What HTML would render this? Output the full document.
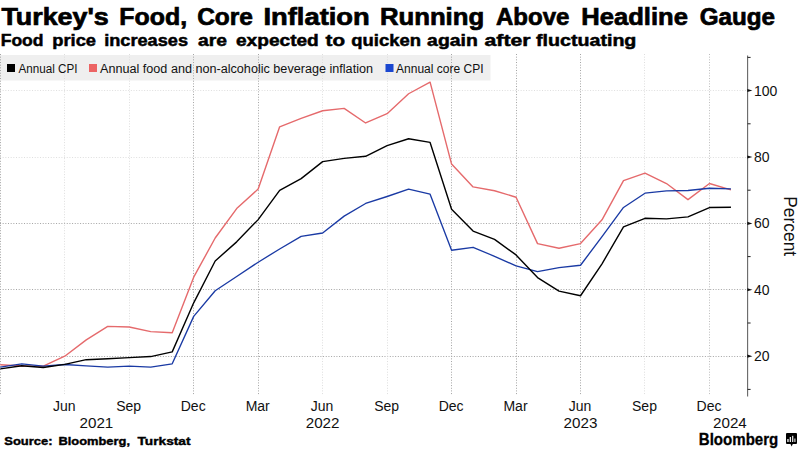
<!DOCTYPE html>
<html><head><meta charset="utf-8">
<style>
html,body{margin:0;padding:0;background:#fff;}
body{width:800px;height:450px;overflow:hidden;}
svg{display:block;font-family:"Liberation Sans",sans-serif;}
</style></head><body>
<svg width="800" height="450" viewBox="0 0 800 450">
<rect width="800" height="450" fill="#fff"/>
<rect x="0" y="55" width="490.5" height="25.5" fill="#efefef"/>
<g stroke-width="1" stroke-dasharray="1,1.67" fill="none">
<line x1="0" y1="356.5" x2="747.6" y2="356.5" stroke="#a4a4a4"/><line x1="0" y1="289.5" x2="747.6" y2="289.5" stroke="#a4a4a4"/><line x1="0" y1="223.5" x2="747.6" y2="223.5" stroke="#a4a4a4"/><line x1="0" y1="157.5" x2="747.6" y2="157.5" stroke="#dedede"/><line x1="0" y1="90.5" x2="747.6" y2="90.5" stroke="#dedede"/><line x1="0.5" y1="54" x2="0.5" y2="395" stroke="#a4a4a4"/><line x1="64.5" y1="54" x2="64.5" y2="395" stroke="#dedede"/><line x1="129.5" y1="54" x2="129.5" y2="395" stroke="#dedede"/><line x1="193.5" y1="54" x2="193.5" y2="395" stroke="#a4a4a4"/><line x1="258.5" y1="54" x2="258.5" y2="395" stroke="#a4a4a4"/><line x1="322.5" y1="54" x2="322.5" y2="395" stroke="#dedede"/><line x1="387.5" y1="54" x2="387.5" y2="395" stroke="#dedede"/><line x1="451.5" y1="54" x2="451.5" y2="395" stroke="#a4a4a4"/><line x1="516.5" y1="54" x2="516.5" y2="395" stroke="#a4a4a4"/><line x1="580.5" y1="54" x2="580.5" y2="395" stroke="#a4a4a4"/><line x1="644.5" y1="54" x2="644.5" y2="395" stroke="#dedede"/><line x1="709.5" y1="54" x2="709.5" y2="395" stroke="#bcbcbc"/>
</g>
<rect x="7" y="64" width="8" height="8" fill="#000"/>
<rect x="89" y="64" width="8" height="8" fill="#ec6464"/>
<rect x="385.5" y="64" width="8" height="8" fill="#1a47d0"/>
<g font-size="12" fill="#111">
<text x="18.5" y="72.8" textLength="59" lengthAdjust="spacingAndGlyphs">Annual CPI</text>
<text x="100" y="72.8" textLength="273" lengthAdjust="spacingAndGlyphs">Annual food and non-alcoholic beverage inflation</text>
<text x="396" y="72.8" textLength="87.5" lengthAdjust="spacingAndGlyphs">Annual core CPI</text>
</g>
<g fill="none" stroke-width="1.4" stroke-linejoin="round">
<polyline points="0.29,364.73 21.78,366.03 43.27,366.16 64.76,356.23 86.25,339.87 107.74,326.42 129.23,327.02 150.72,331.60 172.21,332.69 193.70,277.18 215.19,237.97 236.68,208.56 258.17,189.10 279.66,126.79 301.15,118.39 322.64,110.75 344.13,108.36 365.62,122.97 387.11,113.67 408.60,93.75 430.09,82.13 451.58,164.07 473.07,186.91 494.56,190.73 516.05,197.21 537.54,243.59 559.03,248.27 580.52,243.59 602.01,219.81 623.50,180.67 644.99,173.20 666.48,183.56 687.97,199.66 709.46,183.53 730.95,189.90" stroke="#e56a6c"/>
<polyline points="0.29,367.16 21.78,363.84 43.27,366.16 64.76,364.50 86.25,365.83 107.74,367.16 129.23,366.16 150.72,367.16 172.21,363.84 193.70,316.36 215.19,290.80 236.68,276.52 258.17,262.24 279.66,248.96 301.15,236.35 322.64,233.03 344.13,216.10 365.62,203.48 387.11,196.51 408.60,189.20 430.09,194.18 451.58,250.29 473.07,247.30 494.56,256.27 516.05,265.90 537.54,271.54 559.03,267.56 580.52,265.23 602.01,236.68 623.50,207.46 644.99,193.19 666.48,190.86 687.97,190.53 709.46,188.21 730.95,188.87" stroke="#1a3aa4" stroke-width="1.35"/>
<polyline points="0.29,368.85 21.78,365.70 43.27,367.52 64.76,364.40 86.25,359.69 107.74,358.69 129.23,357.59 150.72,356.57 172.21,351.85 193.70,302.81 215.19,260.95 236.68,241.86 258.17,219.62 279.66,190.30 301.15,178.58 322.64,161.58 344.13,158.33 365.62,156.30 387.11,145.55 408.60,138.71 430.09,142.43 451.58,209.22 473.07,231.10 494.56,239.40 516.05,254.91 537.54,277.58 559.03,291.16 580.52,295.74 602.01,263.80 623.50,226.92 644.99,218.32 666.48,218.88 687.97,216.83 709.46,207.56 730.95,207.26" stroke="#000"/>
</g>
<line x1="747.6" y1="55.5" x2="747.6" y2="396.5" stroke="#666" stroke-width="1.1"/>
<g><line x1="747.6" y1="389.4" x2="750.6" y2="389.4" stroke="#222" stroke-width="1"/><path d="M747.3000000000001 354.60 L752.4 356.20 L747.3000000000001 357.70 Z" fill="#111"/><line x1="747.6" y1="323.0" x2="750.6" y2="323.0" stroke="#222" stroke-width="1"/><path d="M747.3000000000001 288.20 L752.4 289.80 L747.3000000000001 291.30 Z" fill="#111"/><line x1="747.6" y1="256.6" x2="750.6" y2="256.6" stroke="#222" stroke-width="1"/><path d="M747.3000000000001 221.80 L752.4 223.40 L747.3000000000001 224.90 Z" fill="#111"/><line x1="747.6" y1="190.2" x2="750.6" y2="190.2" stroke="#222" stroke-width="1"/><path d="M747.3000000000001 155.40 L752.4 157.00 L747.3000000000001 158.50 Z" fill="#111"/><line x1="747.6" y1="123.8" x2="750.6" y2="123.8" stroke="#222" stroke-width="1"/><path d="M747.3000000000001 89.00 L752.4 90.60 L747.3000000000001 92.10 Z" fill="#111"/><line x1="747.6" y1="57.4" x2="750.6" y2="57.4" stroke="#222" stroke-width="1"/></g>
<g font-size="14" fill="#111"><text x="754" y="361.2">20</text><text x="754" y="294.8">40</text><text x="754" y="228.4">60</text><text x="754" y="162.0">80</text><text x="754" y="95.6">100</text></g>
<text transform="translate(784,196.2) rotate(90)" font-size="17.5" fill="#111" textLength="60" lengthAdjust="spacingAndGlyphs">Percent</text>
<g font-size="14" fill="#111" text-anchor="middle"><text x="64.3" y="411">Jun</text><text x="128.7" y="411">Sep</text><text x="193.2" y="411">Dec</text><text x="257.7" y="411">Mar</text><text x="322.1" y="411">Jun</text><text x="386.6" y="411">Sep</text><text x="451.1" y="411">Dec</text><text x="515.5" y="411">Mar</text><text x="580.0" y="411">Jun</text><text x="644.5" y="411">Sep</text><text x="709.0" y="411">Dec</text><text x="96.4" y="427.9" font-size="15.2">2021</text><text x="322.6" y="427.9" font-size="15.2">2022</text><text x="580.5" y="427.9" font-size="15.2">2023</text><text x="729.9" y="427.9" font-size="15.2">2024</text></g>
<text x="1.42" y="24.6" font-size="23.5" font-weight="bold" fill="#000" textLength="107.38" lengthAdjust="spacingAndGlyphs" stroke="#000" stroke-width="0.7" >Turkey&#39;s</text><text x="119.32" y="24.6" font-size="23.5" font-weight="bold" fill="#000" textLength="67.78" lengthAdjust="spacingAndGlyphs" stroke="#000" stroke-width="0.7" >Food,</text><text x="197.20" y="24.6" font-size="23.5" font-weight="bold" fill="#000" textLength="55.80" lengthAdjust="spacingAndGlyphs" stroke="#000" stroke-width="0.7" >Core</text><text x="263.40" y="24.6" font-size="23.5" font-weight="bold" fill="#000" textLength="106.40" lengthAdjust="spacingAndGlyphs" stroke="#000" stroke-width="0.7" >Inflation</text><text x="379.90" y="24.6" font-size="23.5" font-weight="bold" fill="#000" textLength="104.28" lengthAdjust="spacingAndGlyphs" stroke="#000" stroke-width="0.7" >Running</text><text x="496.00" y="24.6" font-size="23.5" font-weight="bold" fill="#000" textLength="73.50" lengthAdjust="spacingAndGlyphs" stroke="#000" stroke-width="0.7" >Above</text><text x="581.32" y="24.6" font-size="23.5" font-weight="bold" fill="#000" textLength="106.60" lengthAdjust="spacingAndGlyphs" stroke="#000" stroke-width="0.7" >Headline</text><text x="699.74" y="24.6" font-size="23.5" font-weight="bold" fill="#000" textLength="75.26" lengthAdjust="spacingAndGlyphs" stroke="#000" stroke-width="0.7" >Gauge</text>
<text x="0.70" y="45.6" font-size="16.5" font-weight="bold" fill="#000" textLength="42.85" lengthAdjust="spacingAndGlyphs" stroke="#000" stroke-width="0.5" >Food</text><text x="52.24" y="45.6" font-size="16.5" font-weight="bold" fill="#000" textLength="43.76" lengthAdjust="spacingAndGlyphs" stroke="#000" stroke-width="0.5" >price</text><text x="104.16" y="45.6" font-size="16.5" font-weight="bold" fill="#000" textLength="83.84" lengthAdjust="spacingAndGlyphs" stroke="#000" stroke-width="0.5" >increases</text><text x="198.00" y="45.6" font-size="16.5" font-weight="bold" fill="#000" textLength="28.96" lengthAdjust="spacingAndGlyphs" stroke="#000" stroke-width="0.5" >are</text><text x="236.00" y="45.6" font-size="16.5" font-weight="bold" fill="#000" textLength="82.80" lengthAdjust="spacingAndGlyphs" stroke="#000" stroke-width="0.5" >expected</text><text x="325.54" y="45.6" font-size="16.5" font-weight="bold" fill="#000" textLength="19.46" lengthAdjust="spacingAndGlyphs" stroke="#000" stroke-width="0.5" >to</text><text x="351.25" y="45.6" font-size="16.5" font-weight="bold" fill="#000" textLength="69.67" lengthAdjust="spacingAndGlyphs" stroke="#000" stroke-width="0.5" >quicken</text><text x="427.12" y="45.6" font-size="16.5" font-weight="bold" fill="#000" textLength="50.68" lengthAdjust="spacingAndGlyphs" stroke="#000" stroke-width="0.5" >again</text><text x="484.50" y="45.6" font-size="16.5" font-weight="bold" fill="#000" textLength="46.04" lengthAdjust="spacingAndGlyphs" stroke="#000" stroke-width="0.5" >after</text><text x="536.00" y="45.6" font-size="16.5" font-weight="bold" fill="#000" textLength="100.38" lengthAdjust="spacingAndGlyphs" stroke="#000" stroke-width="0.5" >fluctuating</text>
<text x="4.25" y="445" font-size="11.5" font-weight="bold" fill="#000" textLength="48.30" lengthAdjust="spacingAndGlyphs" stroke="#000" stroke-width="0.4" >Source:</text><text x="58.45" y="445" font-size="11.5" font-weight="bold" fill="#000" textLength="71.55" lengthAdjust="spacingAndGlyphs" stroke="#000" stroke-width="0.4" >Bloomberg,</text><text x="137.50" y="445" font-size="11.5" font-weight="bold" fill="#000" textLength="53.00" lengthAdjust="spacingAndGlyphs" stroke="#000" stroke-width="0.4" >Turkstat</text>
<text x="698.8" y="444.8" font-size="16" font-weight="bold" fill="#000" stroke="#000" stroke-width="0.3" textLength="79.5" lengthAdjust="spacingAndGlyphs">Bloomberg</text>
<g>
<rect x="786" y="433" width="11" height="11" rx="1" fill="#000"/>
<path d="M790.3 443.5 L791.6 446.6 L793 443.5 Z" fill="#000"/>
<rect x="787.2" y="439" width="1.5" height="3" fill="#ddd"/>
<rect x="789.7" y="437" width="1.3" height="5" fill="#eee"/>
<rect x="792.1" y="435.8" width="1.2" height="6.2" fill="#eee"/>
<rect x="794.3" y="438.5" width="1.2" height="3.5" fill="#ccc"/>
</g>
</svg>
</body></html>
